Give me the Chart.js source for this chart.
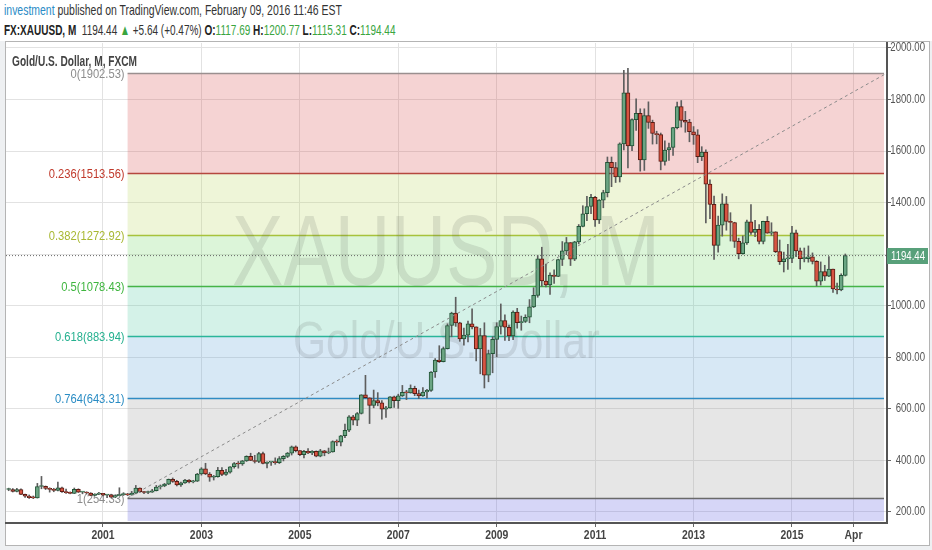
<!DOCTYPE html>
<html>
<head>
<meta charset="utf-8">
<script src="https://cdn.jsdelivr.net/npm/chart.js@4.4.1/dist/chart.umd.min.js"></script>
<style>
body { margin:0; width:932px; height:550px; overflow:hidden; position:relative; background:#eef0f2;
       font-family:'Liberation Sans',sans-serif; }
#head { position:absolute; left:0; top:0; width:932px; height:41px; background:#fff; }
.ln { position:absolute; left:4px; white-space:nowrap; color:#333; font-size:15px; transform-origin:0 0; }
#l1 { top:1px; transform:scaleX(0.697); }
#l2 { top:21px; transform:scaleX(0.667); }
.blue { color:#2a8bc6; }
.grn { color:#3aa53f; }
b { color:#222; }
#frame { position:absolute; left:5px; top:41px; width:923px; height:503px; border:1px solid #b4b4b4; background:#fff; }
canvas { position:absolute; left:0; top:0; }
</style>
</head>
<body>
<div id="head">
  <div class="ln" id="l1"><span class="blue">investment</span> published on TradingView.com, February 09, 2016 11:46 EST</div>
  <div class="ln" id="l2"><b>FX:XAUUSD, M</b>&nbsp; 1194.44 <span class="grn">&#9650;</span> +5.64 (+0.47%) <b>O:</b><span class="grn">1117.69</span> <b>H:</b><span class="grn">1200.77</span> <b>L:</b><span class="grn">1115.31</span> <b>C:</b><span class="grn">1194.44</span></div>
</div>
<div id="frame"></div>
<canvas id="myGraph" width="932" height="550"></canvas>
<script>
// monthly candles, first one is Feb 1999; month index 0 = Jan 2001
var firstMonth = -23;

var opens = [
  287.1, 287.3, 279.5, 286.6, 268.6, 261.3, 255.6, 254.8, 299.0, 299.1, 291.4,
  288.0, 283.3, 293.7, 278.4, 275.4, 272.2, 288.2, 276.8, 277.0, 273.7, 264.5, 269.1,
  272.7, 265.6, 266.7, 257.7, 263.2, 267.5, 270.6, 265.9, 273.0, 293.1, 278.8, 275.5,
  276.5, 282.3, 296.9, 301.4, 308.2, 326.6, 318.5, 304.7, 312.8, 323.7, 316.9, 319.1,
  347.2, 367.5, 347.5, 334.9, 336.8, 361.4, 346.0, 354.8, 375.6, 388.0, 386.3, 398.4,
  416.3, 399.8, 395.9, 427.0, 388.5, 393.3, 395.8, 391.4, 407.3, 415.7, 428.3, 452.4,
  438.0, 422.2, 435.5, 428.7, 435.7, 416.3, 437.1, 429.0, 433.3, 473.3, 470.8, 495.7,
  517.0, 568.8, 556.0, 582.0, 654.0, 643.0, 613.5, 632.5, 623.5, 599.3, 603.8, 646.7,
  632.0, 650.5, 664.2, 661.8, 679.4, 659.1, 650.5, 665.5, 672.0, 743.0, 789.5, 783.5,
  833.8, 923.3, 971.5, 933.5, 871.0, 885.8, 930.3, 918.0, 833.0, 884.5, 730.8, 814.5,
  869.8, 919.5, 942.0, 916.5, 883.3, 975.5, 934.5, 939.0, 955.5, 995.8, 1040, 1182,
  1096, 1081, 1118.5, 1113.3, 1179.3, 1213, 1245, 1181, 1248, 1308, 1357, 1385,
  1421, 1333, 1410, 1439, 1556, 1536, 1500, 1628, 1826, 1620, 1722, 1746,
  1566, 1738, 1711, 1668, 1664, 1560, 1604, 1614, 1691, 1773, 1719, 1712,
  1675, 1663, 1578, 1596, 1472, 1393, 1234, 1313, 1395, 1327, 1323, 1250,
  1202, 1244, 1326, 1284, 1296, 1250, 1327, 1282, 1287, 1210, 1171, 1182,
  1184, 1283, 1213, 1183, 1183, 1190, 1172, 1095, 1133, 1115, 1142, 1065,
  1061, 1117.69
];
var highs = [
  292.5, 291.0, 292.0, 290.0, 269.5, 266.0, 262.0, 311.0, 338.0, 301.0, 294.0,
  292.0, 316.0, 297.0, 289.0, 278.0, 293.0, 290.0, 280.0, 278.5, 275.0, 271.0, 276.0,
  272.8, 268.5, 269.0, 267.0, 294.0, 275.0, 272.0, 280.0, 303.0, 294.0, 280.0, 281.0,
  288.0, 303.0, 305.0, 311.0, 328.0, 332.0, 323.0, 316.0, 327.0, 325.5, 323.0, 350.0,
  372.0, 389.0, 353.0, 342.0, 373.0, 372.0, 365.0, 376.0, 392.0, 396.0, 400.0, 418.0,
  428.0, 420.0, 431.0, 432.0, 395.0, 396.0, 410.0, 415.0, 419.0, 431.0, 456.0, 456.5,
  438.5, 439.0, 446.0, 438.0, 437.0, 443.0, 439.0, 448.0, 476.0, 480.0, 497.0, 541.0,
  574.0, 574.5, 586.0, 655.0, 730.0, 643.0, 673.0, 663.0, 632.0, 610.0, 648.0, 650.0,
  657.0, 691.0, 672.0, 693.0, 688.0, 673.0, 683.0, 676.0, 745.0, 795.0, 845.0, 840.0,
  930.0, 975.0, 1033, 936.0, 913.0, 941.0, 988.0, 918.0, 912.0, 934.0, 828.0, 880.0,
  934.0, 1007, 965.0, 925.0, 980.0, 990.0, 960.0, 965.0, 1024, 1070, 1195, 1227,
  1162, 1128, 1139, 1181, 1249, 1265, 1245, 1250, 1315, 1388, 1424, 1432,
  1424, 1412, 1448, 1577, 1577, 1556, 1632, 1913, 1921, 1725, 1803, 1764,
  1764, 1791, 1720, 1677, 1670, 1640, 1631, 1692, 1790, 1796, 1754, 1723,
  1695, 1683, 1617, 1605, 1488, 1425, 1348, 1434, 1424, 1361, 1324, 1262,
  1271, 1332, 1392, 1331, 1315, 1328, 1346, 1322, 1287, 1255, 1208, 1238,
  1308, 1294, 1224, 1224, 1232, 1205, 1175, 1170, 1157, 1191, 1142, 1088,
  1124, 1200.77
];
var lows = [
  282.5, 277.5, 278.0, 267.5, 257.0, 252.5, 251.7, 254.0, 290.0, 287.0, 277.0,
  278.5, 282.0, 276.0, 272.5, 270.5, 271.5, 275.5, 270.5, 269.5, 263.0, 262.5, 267.0,
  262.5, 255.5, 255.8, 255.3, 262.5, 264.0, 263.5, 265.0, 270.5, 275.5, 271.5, 271.5,
  276.0, 281.5, 289.0, 298.0, 306.0, 315.0, 301.0, 299.0, 310.5, 312.5, 313.0, 318.0,
  343.0, 345.0, 319.0, 324.0, 335.0, 341.0, 342.0, 351.0, 370.0, 370.0, 381.0, 396.0,
  399.0, 390.0, 391.0, 386.0, 371.0, 381.0, 385.0, 388.0, 398.0, 411.0, 421.0, 433.0,
  418.0, 410.0, 426.0, 422.0, 414.0, 414.0, 418.0, 426.0, 432.0, 457.0, 456.0, 488.0,
  512.0, 538.0, 535.0, 580.0, 642.0, 543.0, 604.0, 612.0, 560.0, 567.0, 603.0, 606.0,
  602.0, 648.0, 636.0, 661.0, 651.0, 640.0, 648.0, 642.0, 668.0, 722.0, 780.0, 782.0,
  832.0, 880.0, 920.0, 862.0, 847.0, 860.0, 910.0, 786.0, 736.0, 681.0, 705.0, 740.0,
  802.0, 890.0, 866.0, 865.0, 868.0, 913.0, 905.0, 935.0, 934.0, 993.0, 1033, 1075,
  1073, 1044, 1087, 1113, 1156, 1198, 1156, 1175, 1240, 1306, 1330, 1357,
  1308, 1319, 1380, 1422, 1462, 1478, 1480, 1604, 1535, 1602, 1680, 1522,
  1525, 1688, 1627, 1628, 1527, 1545, 1564, 1583, 1686, 1693, 1673, 1636,
  1626, 1555, 1563, 1321, 1338, 1180, 1208, 1270, 1293, 1251, 1226, 1182,
  1200, 1238, 1277, 1268, 1240, 1240, 1281, 1273, 1206, 1160, 1131, 1141,
  1167, 1190, 1142, 1170, 1169, 1162, 1077, 1080, 1098, 1113, 1052, 1046,
  1058, 1115.31
];
var closes = [
  287.3, 279.5, 286.6, 268.6, 261.3, 255.6, 254.8, 299.0, 299.1, 291.4, 288.0,
  283.3, 293.7, 278.4, 275.4, 272.2, 288.2, 276.8, 277.0, 273.7, 264.5, 269.1, 272.7,
  265.6, 266.7, 257.7, 263.2, 267.5, 270.6, 265.9, 273.0, 293.1, 278.8, 275.5, 276.5,
  282.3, 296.9, 301.4, 308.2, 326.6, 318.5, 304.7, 312.8, 323.7, 316.9, 319.1, 347.2,
  367.5, 347.5, 334.9, 336.8, 361.4, 346.0, 354.8, 375.6, 388.0, 386.3, 398.4, 416.3,
  399.8, 395.9, 427.0, 388.5, 393.3, 395.8, 391.4, 407.3, 415.7, 428.3, 452.4, 438.0,
  422.2, 435.5, 428.7, 435.7, 416.3, 437.1, 429.0, 433.3, 473.3, 470.8, 495.7, 517.0,
  568.8, 556.0, 582.0, 654.0, 643.0, 613.5, 632.5, 623.5, 599.3, 603.8, 646.7, 632.0,
  650.5, 664.2, 661.8, 679.4, 659.1, 650.5, 665.5, 672.0, 743.0, 789.5, 783.5, 833.8,
  923.3, 971.5, 933.5, 871.0, 885.8, 930.3, 918.0, 833.0, 884.5, 730.8, 814.5, 869.8,
  919.5, 942.0, 916.5, 883.3, 975.5, 934.5, 939.0, 955.5, 995.8, 1040, 1182, 1096,
  1081, 1118.5, 1113.3, 1179.3, 1213, 1245, 1181, 1248, 1308, 1357, 1385, 1421,
  1333, 1410, 1439, 1556, 1536, 1500, 1628, 1826, 1620, 1722, 1746, 1566,
  1738, 1711, 1668, 1664, 1560, 1604, 1614, 1691, 1773, 1719, 1712, 1675,
  1663, 1578, 1596, 1472, 1393, 1234, 1313, 1395, 1327, 1323, 1250, 1202,
  1244, 1326, 1284, 1296, 1250, 1327, 1282, 1287, 1210, 1171, 1182, 1184,
  1283, 1213, 1183, 1183, 1190, 1172, 1095, 1133, 1115, 1142, 1065, 1061,
  1117.69, 1194.44
];

var tickMonths = [0, 24, 48, 72, 96, 120, 144, 168, 183];
var tickLabels = ['2001', '2003', '2005', '2007', '2009', '2011', '2013', '2015', 'Apr'];
var priceTicks = [200, 400, 600, 800, 1000, 1200, 1400, 1600, 1800, 2000];

var fibStart = 6;
var fibRatios = ['0', '0.236', '0.382', '0.5', '0.618', '0.764', '1'];
var fibPrices = [1902.53, 1513.56, 1272.92, 1078.43, 883.94, 643.31, 254.33];
var fibLineColors = ['#9a8f8f', '#b5473f', '#a7c23c', '#46b446', '#2ab699', '#2f8cc4', '#6a6a6a'];
var fibTextColors = ['#8c8c8c', '#c0392b', '#a8b832', '#3fb53f', '#25b08f', '#2a8cc4', '#8c8c8c'];
var fibFills = ['rgba(215,79,79,0.25)', 'rgba(187,215,99,0.25)', 'rgba(115,215,103,0.25)',
                'rgba(83,203,163,0.25)', 'rgba(95,163,215,0.25)', 'rgba(155,155,155,0.25)',
                'rgba(91,91,223,0.25)'];

var lastPrice = 1194.44;
var xMin = -23.65, xMax = 191.17;
var yMin = 157.3, yMax = 2019.2;

var months = [];
for (var i = 0; i < closes.length; i++) months.push(firstMonth + i);

var upFill = '#6ba583', upLine = '#225437';
var downFill = '#d75442', downLine = '#5b1a13';

// canvas text squeezed sideways, like the narrow TradingView font
function narrowText(ctx, text, x, y, align, sx) {
  var w = ctx.measureText(text).width * sx;
  var left = align === 'right' ? x - w : align === 'center' ? x - w / 2 : x;
  ctx.save();
  ctx.textAlign = 'left';
  ctx.translate(left, y);
  ctx.scale(sx, 1);
  ctx.fillText(text, 0, 0);
  ctx.restore();
}

var fibPlugin = {
  id: 'fib',
  beforeDatasetsDraw: function (chart) {
    var ctx = chart.ctx, xs = chart.scales.x, ys = chart.scales.y, a = chart.chartArea;
    var x0 = xs.getPixelForValue(fibStart), x1 = a.right;
    ctx.save();
    ctx.beginPath();
    ctx.rect(a.left, a.top, a.right - a.left, a.bottom - a.top);
    ctx.clip();
    for (var k = 0; k < fibPrices.length; k++) {
      var yt = ys.getPixelForValue(fibPrices[k]);
      var yb = k + 1 < fibPrices.length ? ys.getPixelForValue(fibPrices[k + 1]) : a.bottom - 2;
      ctx.fillStyle = fibFills[k];
      ctx.fillRect(x0, yt, x1 - x0 - 3, yb - yt);
    }
    for (var k = 0; k < fibPrices.length; k++) {
      var y = Math.round(ys.getPixelForValue(fibPrices[k])) + 0.5;
      ctx.strokeStyle = fibLineColors[k];
      ctx.lineWidth = 1.5;
      ctx.beginPath(); ctx.moveTo(x0, y); ctx.lineTo(x1 - 3, y); ctx.stroke();
      ctx.fillStyle = fibTextColors[k];
      ctx.font = '13px "Liberation Sans", sans-serif';
      ctx.textBaseline = 'middle';
      narrowText(ctx, fibRatios[k] + '(' + fibPrices[k].toFixed(2) + ')', x0 - 3, y + 1, 'right', 0.86);
    }
    // watermark
    ctx.fillStyle = 'rgba(60,60,60,0.13)';
    ctx.textBaseline = 'alphabetic';
    ctx.font = '100px "Liberation Sans", sans-serif';
    var w = ctx.measureText('XAUUSD, M').width;
    narrowText(ctx, 'XAUUSD, M', 232, 285, 'left', 428 / w);
    ctx.font = '52px "Liberation Sans", sans-serif';
    w = ctx.measureText('Gold/U.S. Dollar').width;
    narrowText(ctx, 'Gold/U.S. Dollar', 293, 358, 'left', 307 / w);
    ctx.restore();

    ctx.save();
    ctx.fillStyle = '#444';
    ctx.font = 'bold 14px "Liberation Sans", sans-serif';
    ctx.textBaseline = 'middle';
    w = ctx.measureText('Gold/U.S. Dollar, M, FXCM').width;
    narrowText(ctx, 'Gold/U.S. Dollar, M, FXCM', 12, 62, 'left', 125 / w);
    ctx.restore();
  },
  afterDraw: function (chart) {
    var ctx = chart.ctx, xs = chart.scales.x, ys = chart.scales.y, a = chart.chartArea;
    ctx.save();
    // tick labels
    ctx.textBaseline = 'middle';
    ctx.fillStyle = '#555';
    ctx.font = '12px "Liberation Sans", sans-serif';
    priceTicks.forEach(function (v) {
      narrowText(ctx, v.toFixed(2), a.right + 38, ys.getPixelForValue(v), 'right', 0.8);
    });
    ctx.fillStyle = '#444';
    ctx.font = 'bold 13px "Liberation Sans", sans-serif';
    tickMonths.forEach(function (m, k) {
      narrowText(ctx, tickLabels[k], xs.getPixelForValue(m), a.bottom + 12, 'center', 0.8);
    });
    // last price box
    var y = Math.round(ys.getPixelForValue(lastPrice));
    ctx.fillStyle = '#58a07a';
    ctx.fillRect(a.right, y - 8, 41, 16);
    ctx.fillStyle = '#fff';
    ctx.font = '12px "Liberation Sans", sans-serif';
    narrowText(ctx, lastPrice.toFixed(2), a.right + 38, y + 1, 'right', 0.8);
    ctx.restore();
  }
};

var ctx = document.getElementById('myGraph');
var myGraph = new Chart(ctx, {
  data: {
    datasets: [{
      type: 'bar',
      label: 'wick',
      data: months.map(function (m, i) { return { x: m, y: [lows[i], highs[i]] }; }),
      backgroundColor: '#5e5e5e',
      barThickness: 1,
      grouped: false,
      order: 3
    }, {
      type: 'bar',
      label: 'body',
      data: months.map(function (m, i) { return { x: m, y: [opens[i], closes[i]] }; }),
      backgroundColor: closes.map(function (c, i) { return c >= opens[i] ? upFill : downFill; }),
      borderColor: closes.map(function (c, i) { return c >= opens[i] ? upLine : downLine; }),
      borderWidth: 1,
      borderSkipped: false,
      barThickness: 4,
      minBarLength: 1,
      grouped: false,
      order: 2
    }, {
      type: 'line',
      label: 'trend',
      data: [{ x: fibStart, y: fibPrices[6] }, { x: xMax, y: fibPrices[0] }],
      borderColor: '#8a8a8a',
      borderWidth: 1,
      borderDash: [3, 3],
      pointRadius: 0,
      order: 1
    }, {
      type: 'line',
      label: 'last',
      data: [{ x: xMin, y: lastPrice }, { x: xMax, y: lastPrice }],
      borderColor: '#666',
      borderWidth: 1,
      borderDash: [1, 2],
      pointRadius: 0,
      order: 1
    }]
  },
  options: {
    responsive: false,
    animation: false,
    layout: { padding: { left: 6, top: 43, right: 5, bottom: 5 } },
    plugins: { legend: { display: false }, tooltip: { enabled: false } },
    scales: {
      x: {
        type: 'linear',
        min: xMin,
        max: xMax,
        offset: false,
        afterBuildTicks: function (s) { s.ticks = tickMonths.map(function (v) { return { value: v }; }); },
        afterFit: function (s) { s.height = 22; },
        ticks: { autoSkip: false, maxRotation: 0, color: 'rgba(0,0,0,0)', font: { size: 12 } },
        grid: { offset: false, color: '#e2e2e2', tickColor: '#666', tickLength: 4 },
        border: { color: '#555', width: 2 }
      },
      y: {
        type: 'linear',
        position: 'right',
        min: yMin,
        max: yMax,
        afterBuildTicks: function (s) { s.ticks = priceTicks.map(function (v) { return { value: v }; }); },
        afterFit: function (s) { s.width = 40; },
        ticks: { color: 'rgba(0,0,0,0)', font: { size: 11 } },
        grid: { color: '#e2e2e2', tickColor: '#666', tickLength: 4 },
        border: { color: '#555', width: 2 }
      }
    }
  },
  plugins: [fibPlugin]
});
</script>
</body>
</html>
